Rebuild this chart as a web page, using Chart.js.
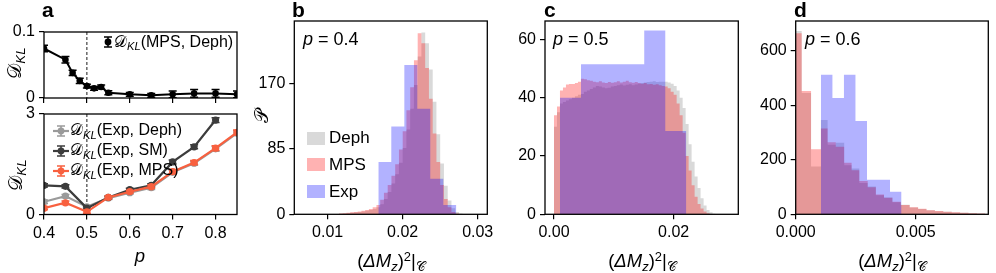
<!DOCTYPE html>
<html>
<head>
<meta charset="utf-8">
<script src="https://cdn.jsdelivr.net/npm/chart.js@4.4.1/dist/chart.umd.min.js"></script>
<style>
  body { margin: 0; background: #fff; }
  #fig { position: relative; width: 996px; height: 273px; overflow: hidden; font-family: "Liberation Sans", Arial, sans-serif; color: #000; }
  #fig canvas { position: absolute; }
  .txt { position: absolute; white-space: nowrap; line-height: 1; font-size: 16px; }
  .letter { font-weight: bold; font-size: 21px; }
  .ylab { transform: translate(-50%, -50%) rotate(-90deg); font-size: 19px; }
  .xlab { transform: translateX(-50%); font-size: 18.5px; }
  .note { font-size: 18px; }
  .sub { font-size: 0.7em; position: relative; top: 0.3em; }
  .sup { font-size: 0.7em; position: relative; top: -0.45em; }
  .row { position: absolute; display: flex; align-items: center; white-space: nowrap; font-size: 16px; line-height: 16px; height: 16px; }
  .row.big { font-size: 17px; }
  .sw { display: inline-block; width: 18px; height: 13px; margin-right: 4px; }
</style>
</head>
<body>
<div id="fig">
  <canvas id="cvA1" width="248" height="120" style="left:0;top:0"></canvas>
  <canvas id="cvA2" width="248" height="177" style="left:0;top:96px"></canvas>
  <canvas id="cvB" width="246" height="273" style="left:250px;top:0"></canvas>
  <canvas id="cvC" width="246" height="273" style="left:500px;top:0"></canvas>
  <canvas id="cvD" width="246" height="273" style="left:750px;top:0"></canvas>

  <div class="txt letter" style="left:42px;top:-1px">a</div>
  <div class="txt letter" style="left:292px;top:-1px">b</div>
  <div class="txt letter" style="left:544px;top:-1px">c</div>
  <div class="txt letter" style="left:794px;top:-1px">d</div>

  <div class="txt ylab" style="left:14px;top:63px">𝒟<span class="sub"><i>KL</i></span></div>
  <div class="txt ylab" style="left:15px;top:175px">𝒟<span class="sub"><i>KL</i></span></div>
  <div class="txt xlab" style="left:140px;top:247px"><i>p</i></div>
  <div class="txt ylab" style="left:261px;top:116px">𝒫</div>

  <div class="txt xlab" style="left:391px;top:252px">(<i>ΔM</i><span class="sub"><i>z</i></span>)<span class="sup">2</span>|<span class="sub">𝒞</span></div>
  <div class="txt xlab" style="left:642px;top:252px">(<i>ΔM</i><span class="sub"><i>z</i></span>)<span class="sup">2</span>|<span class="sub">𝒞</span></div>
  <div class="txt xlab" style="left:892px;top:252px">(<i>ΔM</i><span class="sub"><i>z</i></span>)<span class="sup">2</span>|<span class="sub">𝒞</span></div>

  <div class="txt note" style="left:303px;top:30px"><i>p</i> = 0.4</div>
  <div class="txt note" style="left:553px;top:30px"><i>p</i> = 0.5</div>
  <div class="txt note" style="left:805px;top:30px"><i>p</i> = 0.6</div>

  <div id="legends"></div>
</div>

<script>
// ---------------- data: panel a ----------------
const A_XTICKS = [0.4, 0.5, 0.6, 0.7, 0.8];
const A_XLABELS = ['0.4', '0.5', '0.6', '0.7', '0.8'];
const P_CRIT = 0.5;

const A_TOP_P = [0.4, 0.45, 0.4667, 0.4833, 0.5, 0.5167, 0.5333, 0.55, 0.6, 0.65, 0.7, 0.75, 0.8, 0.85];
const A_TOP_DKL = [0.075, 0.058, 0.038, 0.026, 0.018, 0.0146, 0.0167, 0.008, 0.0055, 0.004, 0.0055, 0.007, 0.007, 0.0055];
const A_TOP_ERR = [0.005, 0.005, 0.004, 0.004, 0.003, 0.003, 0.003, 0.003, 0.003, 0.003, 0.005, 0.006, 0.006, 0.005];
const A_TOP_YTICKS = [0, 0.1];
const A_TOP_YLABELS = ['0', '0.1'];

const A_BOT_P = [0.4, 0.45, 0.5, 0.55, 0.6, 0.65, 0.7, 0.75, 0.8, 0.85];
const A_EXP_DEPH = [0.38, 0.55, 0.23, 0.49, 0.65, 0.8, 1.26, 1.53, 1.96, 2.43];
const A_EXP_SM = [0.87, 0.84, 0.19, 0.51, 0.74, 0.87, 1.57, 2.02, 2.82, null];
const A_EXP_MPS = [0.19, 0.35, 0.08, 0.51, 0.68, 0.83, 1.28, 1.55, 1.98, 2.45];
const A_BOT_ERR = [0.05, 0.05, 0.04, 0.04, 0.04, 0.05, 0.06, 0.06, 0.07, 0.07];
const A_BOT_YTICKS = [0, 3];
const A_BOT_YLABELS = ['0', '3'];

// ---------------- data: panel b (p = 0.4) ----------------
const B_BIN0 = 0.011, B_BINW = 0.0005;
const B_MPS = [0.5, 1, 1.5, 2, 2.5, 3, 3.5, 4.5, 5.5, 7, 9, 12, 19, 28, 38, 50, 65, 84, 108, 135, 165, 200, 235, 222, 190, 150, 105, 68, 38, 20, 9, 3, 1, 0];
const B_DEPH = [0.3, 0.6, 1, 1.5, 2, 2.5, 3, 3.5, 4.5, 5.5, 7, 9, 13, 20, 29, 40, 52, 67, 86, 110, 137, 168, 205, 236, 222, 188, 146, 104, 66, 37, 18, 8, 3, 1];
const B_EXP_EDGES = [0.01675, 0.01848, 0.02022, 0.02195, 0.02368, 0.02542, 0.02715];
const B_EXP = [68, 114, 194, 137, 46, 12];
const B_XTICKS = [0.01, 0.02, 0.03];
const B_XLABELS = ['0.01', '0.02', '0.03'];
const B_YTICKS = [0, 85, 170];
const B_YLABELS = ['0', '85', '170'];

// ---------------- data: panel c (p = 0.5) ----------------
const C_BIN0 = 0, C_BINW = 0.0005;
const C_MPS = [34, 37, 42.5, 43.5, 44.5, 44.7, 44.7, 45, 45.5, 46.5, 46.3, 46, 45.8, 45.5, 45.3, 45.6, 45.2, 45, 45.4, 45.1,
               45.3, 45.6, 45.2, 45.5, 45.8, 45.3, 45.1, 45.4, 45, 44.8, 45, 44.6, 44.7, 44.4, 44.6, 44.3, 44, 43.8, 43.2, 42,
               41, 38, 34, 28, 20, 15, 10, 6, 3.5, 2, 1, 0.4, 0.1];
const C_DEPH = [30, 35, 38, 38.5, 39, 39.5, 40, 40.5, 41, 41.3, 42, 42.5, 43, 43.5, 44, 43.8, 43.5, 43.2, 43.4, 43.8,
                44, 44.3, 44.5, 44.2, 44.4, 44.6, 44.3, 44.5, 44.8, 45, 45.2, 45.4, 45.5, 45.6, 45.4, 45.5, 45.5, 45.5, 45.2, 44.8,
                44, 42.5, 40, 36.5, 31, 24, 18, 13, 9, 5.5, 3, 1.5, 0.7, 0.2];
const C_EXP_EDGES = [0.001, 0.00452, 0.00804, 0.01156, 0.01508, 0.0186, 0.02212];
const C_EXP = [40, 51.5, 51.5, 51.5, 63, 28.6];
const C_XTICKS = [0, 0.02];
const C_XLABELS = ['0.00', '0.02'];
const C_YTICKS = [0, 20, 40, 60];
const C_YLABELS = ['0', '20', '40', '60'];

// ---------------- data: panel d (p = 0.6) ----------------
const D_EDGES = [-0.00015, 0.00025, 0.00064, 0.00105, 0.00133, 0.00167, 0.00202, 0.00233, 0.00265, 0.003, 0.00334, 0.00368,
                 0.00403, 0.00438, 0.00475, 0.0051, 0.00545, 0.0058, 0.00615, 0.0065, 0.00685, 0.0072, 0.00755, 0.0079];
const D_MPS = [664, 452, 239, 315, 264, 248, 189, 162, 122, 99, 73, 61, 46, 34, 26, 20, 15, 12, 9.5, 7.5, 6, 4, 2.5];
const D_DEPH = [672, 445, 175, 346, 255, 262, 180, 168, 115, 102, 70, 62, 44, 35, 25, 19, 14.5, 11.5, 9, 7, 5.5, 3.5, 2];
const D_EXP_EDGES = [0.00105, 0.00153, 0.00201, 0.00249, 0.00297, 0.00345, 0.00393, 0.00441];
const D_EXP = [512, 427, 512, 342, 127, 127, 83];
const D_XTICKS = [0, 0.005];
const D_XLABELS = ['0.000', '0.005'];
const D_YTICKS = [0, 200, 400, 600];
const D_YLABELS = ['0', '200', '400', '600'];

// ---------------- styles ----------------
const FONT = '"Liberation Sans", Arial, sans-serif';
const COL_DEPH_H = 'rgba(128,128,128,0.3)';
const COL_MPS_H = 'rgba(255,0,0,0.3)';
const COL_EXP_H = 'rgba(0,0,255,0.3)';
const COL_A_DEPH = '#9a9a9a';
const COL_A_SM = '#3c3c3c';
const COL_A_MPS = '#f8603f';

// ---------------- helpers ----------------
function fixedAxis(min, max, vals, labels, size) {
    return {
        type: 'linear', min, max,
        afterBuildTicks: s => { s.ticks = vals.map(v => ({ value: v })); },
        afterFit: s => {
            if (s.isHorizontal()) s.height = size; else s.width = size;
            s.paddingLeft = s.paddingRight = s.paddingTop = s.paddingBottom = 0;
        },
        grid: { display: true, drawOnChartArea: false, drawTicks: true, tickLength: 5, color: '#000', lineWidth: 1.2 },
        border: { display: false },
        ticks: { color: '#000', font: { family: FONT, size: 16 }, padding: 4, maxRotation: 0, minRotation: 0, autoSkip: false,
                 callback: (v, i) => labels[i] }
    };
}

function baseOptions(pad, x, y) {
    return {
        responsive: false, animation: false, events: [],
        layout: { padding: { left: 0, bottom: 0, top: pad.top, right: pad.right } },
        plugins: { legend: { display: false }, tooltip: { enabled: false } },
        scales: { x, y }
    };
}

// frame around the axes box
const frame = {
    id: 'frame',
    afterDatasetsDraw(chart) {
        const { ctx, chartArea: a } = chart;
        ctx.save();
        ctx.strokeStyle = '#000';
        ctx.lineWidth = 1.3;
        ctx.strokeRect(a.left, a.top, a.right - a.left, a.bottom - a.top);
        ctx.restore();
    }
};

// dashed marker of p = 0.5
const critLine = {
    id: 'critLine',
    beforeDatasetsDraw(chart) {
        const { ctx, chartArea: a } = chart;
        const x = chart.scales.x.getPixelForValue(P_CRIT);
        ctx.save();
        ctx.strokeStyle = '#000';
        ctx.lineWidth = 0.9;
        ctx.setLineDash([3, 2]);
        ctx.beginPath();
        ctx.moveTo(x, a.top);
        ctx.lineTo(x, a.bottom);
        ctx.stroke();
        ctx.restore();
    }
};

// error bars, drawn under each dataset's own line
const errorBars = {
    id: 'errorBars',
    beforeDatasetDraw(chart, args) {
        const ds = chart.data.datasets[args.index];
        if (!ds.errors) return;
        const { ctx, chartArea: a } = chart;
        const ys = chart.scales.y;
        ctx.save();
        ctx.beginPath();
        ctx.rect(a.left, a.top, a.right - a.left, a.bottom - a.top);
        ctx.clip();
        ctx.strokeStyle = ds.borderColor;
        ctx.lineWidth = 1.5;
        args.meta.data.forEach((pt, i) => {
            const v = ds.data[i].y;
            if (v == null) return;
            const e = ds.errors[i];
            const y1 = ys.getPixelForValue(v - e), y2 = ys.getPixelForValue(v + e);
            ctx.beginPath();
            ctx.moveTo(pt.x, y1); ctx.lineTo(pt.x, y2);
            ctx.moveTo(pt.x - 4, y1); ctx.lineTo(pt.x + 4, y1);
            ctx.moveTo(pt.x - 4, y2); ctx.lineTo(pt.x + 4, y2);
            ctx.stroke();
        });
        ctx.restore();
    }
};

function lineSet(xs, ys, errs, color, width, radius) {
    return {
        data: xs.map((x, i) => ({ x, y: ys[i] })),
        errors: errs,
        borderColor: color, backgroundColor: color, pointBackgroundColor: color,
        borderWidth: width, pointRadius: radius, pointBorderWidth: 0, tension: 0
    };
}

function uniformEdges(start, width, n) {
    const e = [];
    for (let i = 0; i <= n; i++) e.push(start + i * width);
    return e;
}

// histogram as a filled step line: bin i spans edges[i]..edges[i+1]
function histSet(edges, counts, color) {
    const pts = counts.map((c, i) => ({ x: edges[i], y: c }));
    pts.push({ x: edges[counts.length], y: 0 });
    return {
        data: pts, stepped: true, fill: 'origin',
        backgroundColor: color, borderColor: 'rgba(0,0,0,0)', borderWidth: 0, pointRadius: 0
    };
}

// ---------------- panel a ----------------
new Chart(document.getElementById('cvA1'), {
    type: 'line',
    data: { datasets: [lineSet(A_TOP_P, A_TOP_DKL, A_TOP_ERR, '#000', 2, 3.3)] },
    options: baseOptions({ top: 32, right: 11 },
        fixedAxis(0.4, 0.85, A_XTICKS, A_XTICKS.map(() => ''), 22),
        fixedAxis(0, 0.1, A_TOP_YTICKS, A_TOP_YLABELS, 44)),
    plugins: [critLine, errorBars, frame]
});

new Chart(document.getElementById('cvA2'), {
    type: 'line',
    data: { datasets: [
        lineSet(A_BOT_P, A_EXP_MPS, A_BOT_ERR, COL_A_MPS, 2.2, 3.6),
        lineSet(A_BOT_P, A_EXP_SM, A_BOT_ERR, COL_A_SM, 2.2, 3.6),
        lineSet(A_BOT_P, A_EXP_DEPH, A_BOT_ERR, COL_A_DEPH, 2.2, 3.6)
    ] },
    options: baseOptions({ top: 18, right: 11 },
        fixedAxis(0.4, 0.85, A_XTICKS, A_XLABELS, 58.5),
        fixedAxis(0, 3, A_BOT_YTICKS, A_BOT_YLABELS, 44)),
    plugins: [critLine, errorBars, frame]
});

// ---------------- panels b, c, d ----------------
function histChart(id, pad, x, y, exp, mps, deph) {
    new Chart(document.getElementById(id), {
        type: 'line',
        data: { datasets: [exp, mps, deph] },   // first dataset is drawn on top
        options: baseOptions(pad, x, y),
        plugins: [frame]
    });
}

histChart('cvB', { top: 21, right: 8.7 },
    fixedAxis(0.00555, 0.03128, B_XTICKS, B_XLABELS, 58.7),
    fixedAxis(0, 251, B_YTICKS, B_YLABELS, 44.3),
    histSet(B_EXP_EDGES, B_EXP, COL_EXP_H),
    histSet(uniformEdges(B_BIN0, B_BINW, B_MPS.length), B_MPS, COL_MPS_H),
    histSet(uniformEdges(B_BIN0, B_BINW, B_DEPH.length), B_DEPH, COL_DEPH_H));

histChart('cvC', { top: 21, right: 7.7 },
    fixedAxis(-0.0015, 0.0308, C_XTICKS, C_XLABELS, 58.7),
    fixedAxis(0, 66.3, C_YTICKS, C_YLABELS, 45),
    histSet(C_EXP_EDGES, C_EXP, COL_EXP_H),
    histSet(uniformEdges(C_BIN0, C_BINW, C_MPS.length), C_MPS, COL_MPS_H),
    histSet(uniformEdges(C_BIN0, C_BINW, C_DEPH.length), C_DEPH, COL_DEPH_H));

histChart('cvD', { top: 21, right: 7.7 },
    fixedAxis(0, 0.008025, D_XTICKS, D_XLABELS, 58.7),
    fixedAxis(0, 709, D_YTICKS, D_YLABELS, 45.7),
    histSet(D_EXP_EDGES, D_EXP, COL_EXP_H),
    histSet(D_EDGES, D_MPS, COL_MPS_H),
    histSet(D_EDGES, D_DEPH, COL_DEPH_H));

// ---------------- legends ----------------
function errSymbol(color, withLine) {
    const w = withLine ? 16 : 10, c = w / 2;
    return `<svg width="${w}" height="16" style="margin-right:1px">` +
        (withLine ? `<line x1="0" y1="8" x2="16" y2="8" stroke="${color}" stroke-width="2.2"/>` : '') +
        `<path d="M${c} 3V13M${c - 4} 3H${c + 4}M${c - 4} 13H${c + 4}" stroke="${color}" stroke-width="1.5" fill="none"/>` +
        `<circle cx="${c}" cy="8" r="3.4" fill="${color}"/></svg>`;
}
const DKL = '𝒟<span class="sub"><i>KL</i></span>';
const legendRows = [
    { left: 103, mid: 42, sym: errSymbol('#000', false), text: DKL + '(MPS, Deph)' },
    { left: 53, mid: 130.7, sym: errSymbol(COL_A_DEPH, true), text: DKL + '(Exp, Deph)' },
    { left: 53, mid: 150.7, sym: errSymbol(COL_A_SM, true), text: DKL + '(Exp, SM)' },
    { left: 53, mid: 170.7, sym: errSymbol(COL_A_MPS, true), text: DKL + '(Exp, MPS)' },
    { left: 307, mid: 138.3, cls: 'big', sym: `<span class="sw" style="background:${COL_DEPH_H}"></span>`, text: 'Deph' },
    { left: 307, mid: 164.8, cls: 'big', sym: `<span class="sw" style="background:${COL_MPS_H}"></span>`, text: 'MPS' },
    { left: 307, mid: 191.5, cls: 'big', sym: `<span class="sw" style="background:${COL_EXP_H}"></span>`, text: 'Exp' }
];
document.getElementById('legends').innerHTML = legendRows.map(r =>
    `<div class="row ${r.cls || ''}" style="left:${r.left}px;top:${r.mid - 8}px">${r.sym}<span>${r.text}</span></div>`).join('');
</script>
</body>
</html>
